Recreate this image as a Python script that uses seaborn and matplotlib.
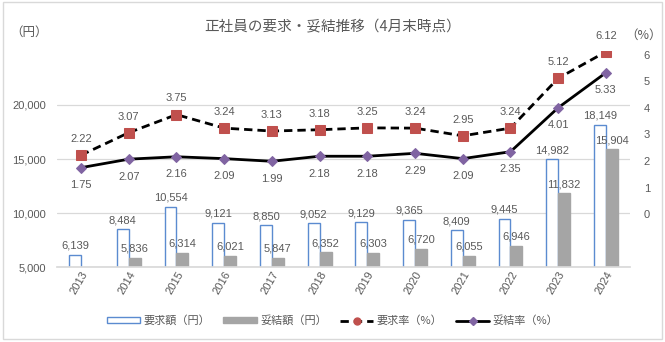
import matplotlib
matplotlib.use("Agg")
import matplotlib.pyplot as plt
from matplotlib.lines import Line2D
from matplotlib.patches import Patch, Rectangle
import numpy as np
import pandas as pd
import seaborn as sns

years = ["2013", "2014", "2015", "2016", "2017", "2018",
         "2019", "2020", "2021", "2022", "2023", "2024"]
demand_yen = [6139, 8484, 10554, 9121, 8850, 9052, 9129, 9365, 8409, 9445, 14982, 18149]
settled_yen = [np.nan, 5836, 6314, 6021, 5847, 6352, 6303, 6720, 6055, 6946, 11832, 15904]
demand_rate = [2.22, 3.07, 3.75, 3.24, 3.13, 3.18, 3.25, 3.24, 2.95, 3.24, 5.12, 6.12]
settled_rate = [1.75, 2.07, 2.16, 2.09, 1.99, 2.18, 2.18, 2.29, 2.09, 2.35, 4.01, 5.33]

series_amount = ["要求額（円）", "妥結額（円）"]
series_rate = ["要求率（%）", "妥結率（%）"]
title = "正社員の要求・妥結推移（4月末時点）"

sns.set_theme(style="white")
jp = ["Noto Sans CJK JP", "DejaVu Sans"]
num = ["Liberation Sans", "DejaVu Sans"]
plt.rcParams["font.family"] = jp

TEXT = "#595959"
BLUE = "#5B8BD0"
GRAY = "#A5A5A5"
RED = "#C0504D"
PURPLE = "#8064A2"
GRID = "#D9D9D9"

amounts = pd.DataFrame({
    "year": years * 2,
    "series": [series_amount[0]] * len(years) + [series_amount[1]] * len(years),
    "value": demand_yen + settled_yen,
})

fig = plt.figure(figsize=(6.65, 3.42), dpi=100)
ax = fig.add_axes([0.086, 0.219, 0.861, 0.632])

sns.barplot(data=amounts, x="year", y="value", hue="series", order=years,
            hue_order=series_amount, palette=["white", GRAY], width=0.5, gap=0,
            dodge=True, legend=False, ax=ax, linewidth=0)

# outlined demand bars, filled settlement bars; values written above each bar
for cont, vals, face, edge in zip(ax.containers, [demand_yen, settled_yen],
                                  ["white", GRAY], [BLUE, GRAY]):
    for bar in cont:
        if bar is None:
            continue
        cx = bar.get_x() + bar.get_width() / 2
        v = vals[int(round(cx))]
        if np.isnan(v):
            continue
        bar.set_facecolor(face)
        bar.set_edgecolor(edge)
        bar.set_linewidth(1.0)
        ax.annotate(f"{v:,.0f}", (cx, v), xytext=(0, 3),
                    textcoords="offset points", ha="center", va="bottom",
                    fontsize=8, color=TEXT, family=num)

ax.set_ylim(5000, 25000)
ax.set_yticks([5000, 10000, 15000, 20000])
ax.set_yticklabels([f"{v:,}" for v in [5000, 10000, 15000, 20000]],
                   family=num, fontsize=8, color=TEXT)
ax.yaxis.grid(True, color=GRID, linewidth=0.9)
ax.set_axisbelow(True)
ax.set_xlabel("")
ax.set_ylabel("")
ax.set_xlim(-0.5, len(years) - 0.5)
for s in ["left", "right", "top"]:
    ax.spines[s].set_visible(False)
ax.spines["bottom"].set_color(GRID)
ax.tick_params(axis="y", length=0, pad=8)
ax.tick_params(axis="x", length=0, pad=2)
ax.set_xticks(range(len(years)))
ax.set_xticklabels(years, rotation=60, ha="right", rotation_mode="anchor",
                   family=num, fontsize=8, color=TEXT)

# rate lines on the secondary axis
ax2 = ax.twinx()
rates = pd.DataFrame({"x": list(range(len(years))),
                      "demand": demand_rate, "settled": settled_rate})
sns.lineplot(data=rates, x="x", y="demand", ax=ax2, color="black",
             linewidth=2.0, linestyle=(0, (3, 1.8)), marker="s",
             markersize=7, markerfacecolor=RED, markeredgecolor=RED)
sns.lineplot(data=rates, x="x", y="settled", ax=ax2, color="black",
             linewidth=2.0, marker="D", markersize=5.5,
             markerfacecolor=PURPLE, markeredgecolor=PURPLE)
ax2.set_ylim(-2, 6.15)
ax2.set_yticks(range(0, 7))
ax2.set_yticklabels([str(v) for v in range(0, 7)], family=num, fontsize=8,
                    color=TEXT)
ax2.tick_params(axis="y", length=0, pad=10)
ax2.set_xlabel("")
ax2.set_ylabel("")
for s in ["left", "right", "top", "bottom"]:
    ax2.spines[s].set_visible(False)
ax2.set_xlim(-0.5, len(years) - 0.5)

for i, v in enumerate(demand_rate):
    ax2.annotate(f"{v:.2f}", (i, v), xytext=(0, 8), textcoords="offset points",
                 ha="center", va="bottom", fontsize=8, color=TEXT, family=num)
for i, v in enumerate(settled_rate):
    ax2.annotate(f"{v:.2f}", (i, v), xytext=(0, -9), textcoords="offset points",
                 ha="center", va="top", fontsize=8, color=TEXT, family=num)

fig.text(0.5, 0.92, title, ha="center", va="center", fontsize=10.5, color=TEXT)
fig.text(0.015, 0.905, "（円）", ha="left", va="center", fontsize=9, color=TEXT)
fig.text(0.94, 0.897, "（%）", ha="left", va="center", fontsize=9, color=TEXT)

handles = [
    Patch(facecolor="white", edgecolor=BLUE, linewidth=1.0),
    Patch(facecolor=GRAY, edgecolor=GRAY),
    Line2D([], [], color="black", linewidth=2.0, linestyle=(0, (3, 1.8)),
           marker="o", markersize=5, markerfacecolor=RED, markeredgecolor=RED),
    Line2D([], [], color="black", linewidth=2.0, marker="D", markersize=4,
           markerfacecolor=PURPLE, markeredgecolor=PURPLE),
]
leg = fig.legend(handles, series_amount + series_rate, loc="center",
                 bbox_to_anchor=(0.5, 0.062), ncol=4, frameon=False,
                 fontsize=8, handlelength=3.0, handleheight=0.5,
                 columnspacing=1.2, handletextpad=0.3)
for t in leg.get_texts():
    t.set_color(TEXT)

fig.add_artist(Rectangle((0.004, 0.008), 0.992, 0.985, transform=fig.transFigure,
                         fill=False, edgecolor=GRID, linewidth=1.0))

fig.savefig("out.png", dpi=100)
